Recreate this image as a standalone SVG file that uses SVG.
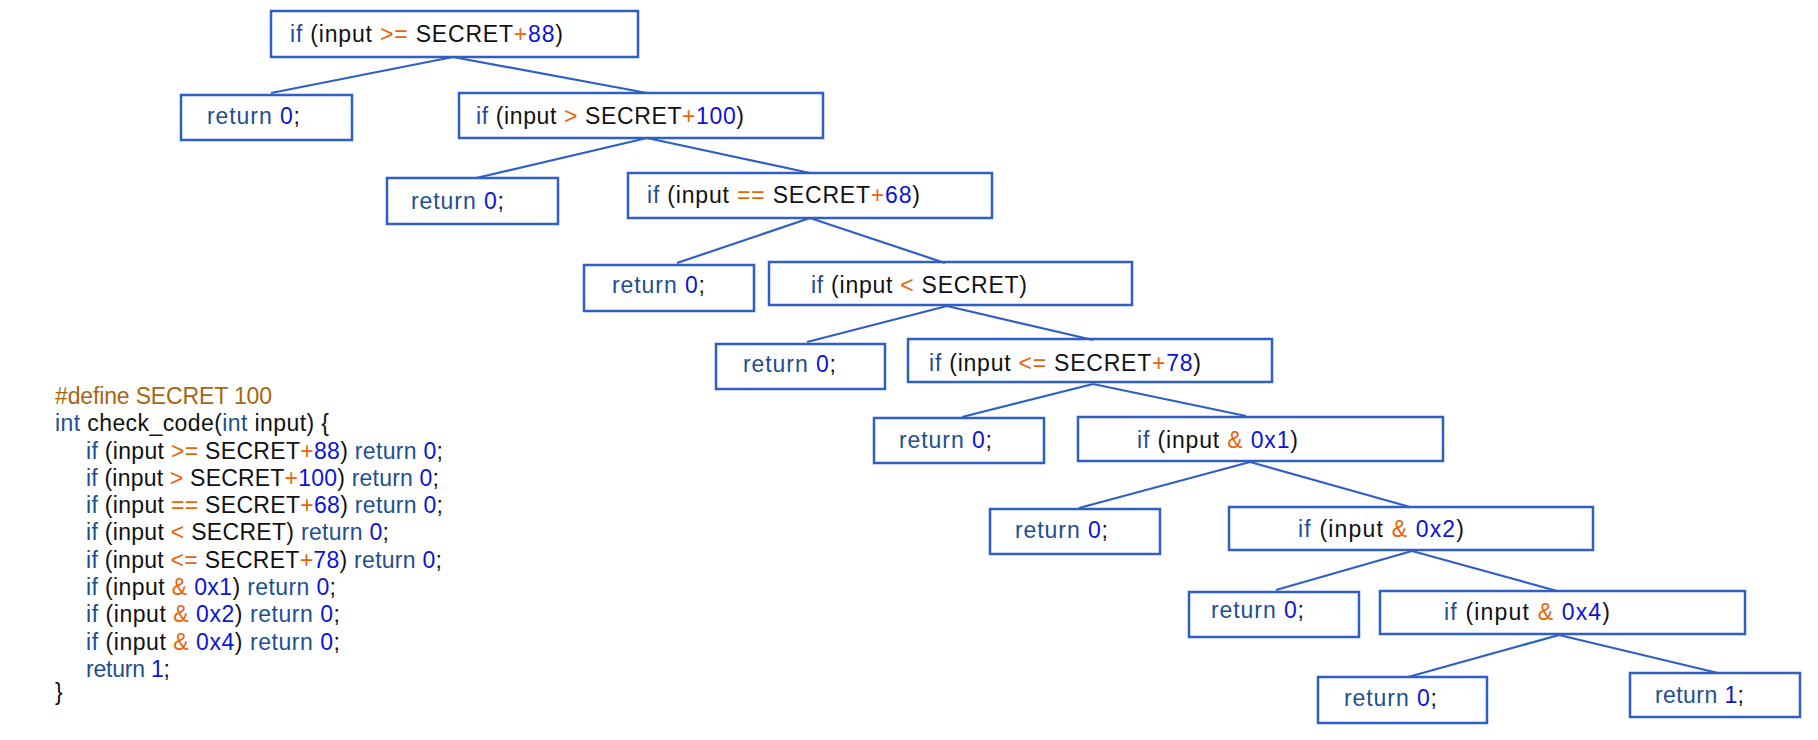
<svg xmlns="http://www.w3.org/2000/svg" width="1818" height="740" viewBox="0 0 1818 740">
<style>
text{font-family:"Liberation Sans",Arial,sans-serif;font-size:23px;fill:#111;white-space:pre}
.box{fill:none;stroke:#2f5fc4;stroke-width:2.5}
.edge{stroke:#2f5fc4;stroke-width:2.2;fill:none}
.kw{fill:#1d4f91}
.num{fill:#0a14d8}
.op{fill:#e8650a}
.def{fill:#a8650f}
</style>
<rect width="1818" height="740" fill="#fff"/>
<g id="connectors">
<line class="edge" x1="453" y1="57" x2="271" y2="93"/>
<line class="edge" x1="453" y1="57" x2="647" y2="93"/>
<line class="edge" x1="647" y1="138" x2="476" y2="178"/>
<line class="edge" x1="647" y1="138" x2="810" y2="173"/>
<line class="edge" x1="810" y1="218" x2="677" y2="263"/>
<line class="edge" x1="810" y1="218" x2="945" y2="263"/>
<line class="edge" x1="947" y1="306" x2="807" y2="342"/>
<line class="edge" x1="947" y1="306" x2="1093" y2="340"/>
<line class="edge" x1="1093" y1="384" x2="962" y2="417"/>
<line class="edge" x1="1093" y1="384" x2="1246" y2="416"/>
<line class="edge" x1="1250" y1="462" x2="1079" y2="508"/>
<line class="edge" x1="1250" y1="462" x2="1410" y2="507"/>
<line class="edge" x1="1412" y1="551" x2="1276" y2="590"/>
<line class="edge" x1="1412" y1="551" x2="1557" y2="591"/>
<line class="edge" x1="1559" y1="635" x2="1408" y2="677"/>
<line class="edge" x1="1559" y1="635" x2="1718" y2="673"/>
</g>
<g id="n1"><rect class="box" x="271" y="11" width="367" height="46"/><text x="290" y="42" textLength="273" lengthAdjust="spacing"><tspan class="kw">if</tspan> (input <tspan class="op">&gt;=</tspan> SECRET<tspan class="op">+</tspan><tspan class="num">88</tspan>)</text></g>
<g id="n2"><rect class="box" x="181" y="95" width="171" height="45"/><text x="207" y="124" textLength="93" lengthAdjust="spacing"><tspan class="kw">return</tspan> <tspan class="num">0</tspan>;</text></g>
<g id="n3"><rect class="box" x="459" y="93" width="364" height="45"/><text x="476" y="124" textLength="268" lengthAdjust="spacing"><tspan class="kw">if</tspan> (input <tspan class="op">&gt;</tspan> SECRET<tspan class="op">+</tspan><tspan class="num">100</tspan>)</text></g>
<g id="n4"><rect class="box" x="387" y="178" width="171" height="46"/><text x="411" y="209" textLength="93" lengthAdjust="spacing"><tspan class="kw">return</tspan> <tspan class="num">0</tspan>;</text></g>
<g id="n5"><rect class="box" x="628" y="173" width="364" height="45"/><text x="647" y="203" textLength="273" lengthAdjust="spacing"><tspan class="kw">if</tspan> (input <tspan class="op">==</tspan> SECRET<tspan class="op">+</tspan><tspan class="num">68</tspan>)</text></g>
<g id="n6"><rect class="box" x="584" y="265" width="170" height="46"/><text x="612" y="293" textLength="93" lengthAdjust="spacing"><tspan class="kw">return</tspan> <tspan class="num">0</tspan>;</text></g>
<g id="n7"><rect class="box" x="769" y="262" width="363" height="43"/><text x="811" y="293" textLength="216" lengthAdjust="spacing"><tspan class="kw">if</tspan> (input <tspan class="op">&lt;</tspan> SECRET)</text></g>
<g id="n8"><rect class="box" x="716" y="344" width="169" height="45"/><text x="743" y="372" textLength="93" lengthAdjust="spacing"><tspan class="kw">return</tspan> <tspan class="num">0</tspan>;</text></g>
<g id="n9"><rect class="box" x="908" y="339" width="364" height="43"/><text x="929" y="371" textLength="272" lengthAdjust="spacing"><tspan class="kw">if</tspan> (input <tspan class="op">&lt;=</tspan> SECRET<tspan class="op">+</tspan><tspan class="num">78</tspan>)</text></g>
<g id="n10"><rect class="box" x="874" y="418" width="170" height="45"/><text x="899" y="448" textLength="93" lengthAdjust="spacing"><tspan class="kw">return</tspan> <tspan class="num">0</tspan>;</text></g>
<g id="n11"><rect class="box" x="1078" y="417" width="365" height="44"/><text x="1137" y="448" textLength="161" lengthAdjust="spacing"><tspan class="kw">if</tspan> (input <tspan class="op">&amp;</tspan> <tspan class="num">0x1</tspan>)</text></g>
<g id="n12"><rect class="box" x="990" y="509" width="170" height="45"/><text x="1015" y="538" textLength="93" lengthAdjust="spacing"><tspan class="kw">return</tspan> <tspan class="num">0</tspan>;</text></g>
<g id="n13"><rect class="box" x="1229" y="507" width="364" height="43"/><text x="1298" y="537" textLength="166" lengthAdjust="spacing"><tspan class="kw">if</tspan> (input <tspan class="op">&amp;</tspan> <tspan class="num">0x2</tspan>)</text></g>
<g id="n14"><rect class="box" x="1189" y="592" width="170" height="45"/><text x="1211" y="618" textLength="93" lengthAdjust="spacing"><tspan class="kw">return</tspan> <tspan class="num">0</tspan>;</text></g>
<g id="n15"><rect class="box" x="1380" y="591" width="365" height="43"/><text x="1444" y="620" textLength="166" lengthAdjust="spacing"><tspan class="kw">if</tspan> (input <tspan class="op">&amp;</tspan> <tspan class="num">0x4</tspan>)</text></g>
<g id="n16"><rect class="box" x="1318" y="677" width="169" height="46"/><text x="1344" y="706" textLength="93" lengthAdjust="spacing"><tspan class="kw">return</tspan> <tspan class="num">0</tspan>;</text></g>
<g id="n17"><rect class="box" x="1630" y="673" width="170" height="44"/><text x="1655" y="703" textLength="89" lengthAdjust="spacing"><tspan class="kw">return</tspan> <tspan class="num">1</tspan>;</text></g>
<g id="code">
<text x="55" y="404" textLength="217" lengthAdjust="spacing" class="def">#define SECRET 100</text>
<text x="55" y="431" textLength="274" lengthAdjust="spacing"><tspan class="kw">int</tspan> check_code(<tspan class="kw">int</tspan> input) {</text>
<text x="86" y="459" textLength="357" lengthAdjust="spacing"><tspan class="kw">if</tspan> (input <tspan class="op">&gt;=</tspan> SECRET<tspan class="op">+</tspan><tspan class="num">88</tspan>) <tspan class="kw">return</tspan> <tspan class="num">0</tspan>;</text>
<text x="86" y="486" textLength="353" lengthAdjust="spacing"><tspan class="kw">if</tspan> (input <tspan class="op">&gt;</tspan> SECRET<tspan class="op">+</tspan><tspan class="num">100</tspan>) <tspan class="kw">return</tspan> <tspan class="num">0</tspan>;</text>
<text x="86" y="513" textLength="357" lengthAdjust="spacing"><tspan class="kw">if</tspan> (input <tspan class="op">==</tspan> SECRET<tspan class="op">+</tspan><tspan class="num">68</tspan>) <tspan class="kw">return</tspan> <tspan class="num">0</tspan>;</text>
<text x="86" y="540" textLength="303" lengthAdjust="spacing"><tspan class="kw">if</tspan> (input <tspan class="op">&lt;</tspan> SECRET) <tspan class="kw">return</tspan> <tspan class="num">0</tspan>;</text>
<text x="86" y="568" textLength="356" lengthAdjust="spacing"><tspan class="kw">if</tspan> (input <tspan class="op">&lt;=</tspan> SECRET<tspan class="op">+</tspan><tspan class="num">78</tspan>) <tspan class="kw">return</tspan> <tspan class="num">0</tspan>;</text>
<text x="86" y="595" textLength="250" lengthAdjust="spacing"><tspan class="kw">if</tspan> (input <tspan class="op">&amp;</tspan> <tspan class="num">0x1</tspan>) <tspan class="kw">return</tspan> <tspan class="num">0</tspan>;</text>
<text x="86" y="622" textLength="254" lengthAdjust="spacing"><tspan class="kw">if</tspan> (input <tspan class="op">&amp;</tspan> <tspan class="num">0x2</tspan>) <tspan class="kw">return</tspan> <tspan class="num">0</tspan>;</text>
<text x="86" y="650" textLength="254" lengthAdjust="spacing"><tspan class="kw">if</tspan> (input <tspan class="op">&amp;</tspan> <tspan class="num">0x4</tspan>) <tspan class="kw">return</tspan> <tspan class="num">0</tspan>;</text>
<text x="86" y="677" textLength="84" lengthAdjust="spacing"><tspan class="kw">return</tspan> <tspan class="num">1</tspan>;</text>
<text x="55" y="700">}</text>
</g>
</svg>
